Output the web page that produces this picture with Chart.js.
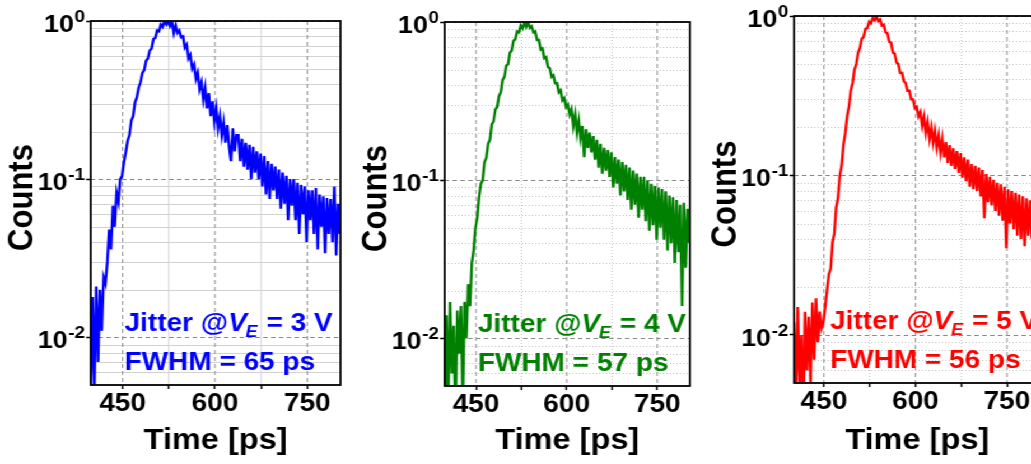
<!DOCTYPE html>
<html><head><meta charset="utf-8">
<script src="https://cdn.jsdelivr.net/npm/chart.js@4.4.1/dist/chart.umd.min.js"></script>
<style>
html,body{margin:0;padding:0;width:1031px;height:464px;overflow:hidden;background:#fff}
#wrap{position:absolute;left:0;top:0;width:940px;height:464px;transform:scaleX(1.12);transform-origin:0 0}
#wrap canvas{position:absolute;top:0}
</style></head><body>
<div id="wrap">
<canvas id="c1" width="310" height="464" style="left:0px"></canvas>
<canvas id="c2" width="306" height="464" style="left:316px"></canvas>
<canvas id="c3" width="307" height="464" style="left:628px"></canvas>
</div>
<script>
// ---- data ----
const times = [
398,401,404,407,410,413,416,419,422,425,
428,431,434,437,440,443,446,449,452,455,
458,461,464,467,470,473,476,479,482,485,
488,491,494,497,500,503,506,509,512,515,
518,521,524,527,530,533,536,539,542,545,
548,551,554,557,560,563,566,569,572,575,
578,581,584,587,590,593,596,599,602,605,
608,611,614,617,620,623,626,629,632,635,
638,641,644,647,650,653,656,659,662,665,
668,671,674,677,680,683,686,689,692,695,
698,701,704,707,710,713,716,719,722,725,
728,731,734,737,740,743,746,749,752,755,
758,761,764,767,770,773,776,779,782,785,
788,791,794,797,800,803];

const countsBlue = [
0.004,0.018,0.005,0.021,0.007,0.02,0.011,0.024,0.022,0.03,
0.048,0.036,0.068,0.05,0.082,0.072,0.1,0.105,0.128,0.148,
0.175,0.19,0.235,0.25,0.305,0.33,0.38,0.41,0.47,0.49,
0.56,0.58,0.65,0.67,0.77,0.78,0.87,0.86,0.95,0.92,
1.0,0.95,1.0,0.93,0.99,0.84,0.94,0.84,0.87,0.79,
0.8,0.68,0.71,0.58,0.61,0.5,0.53,0.43,0.47,0.37,
0.41,0.32,0.38,0.28,0.35,0.25,0.31,0.23,0.28,0.21,
0.25,0.19,0.23,0.17,0.22,0.16,0.13,0.21,0.15,0.19,
0.19,0.13,0.18,0.12,0.17,0.115,0.165,0.1,0.16,0.11,
0.15,0.1,0.145,0.09,0.14,0.08,0.13,0.075,0.125,0.085,
0.12,0.075,0.115,0.065,0.11,0.07,0.105,0.055,0.1,0.068,
0.1,0.055,0.095,0.045,0.092,0.06,0.09,0.04,0.085,0.055,
0.085,0.045,0.088,0.036,0.08,0.05,0.078,0.034,0.076,0.045,
0.075,0.04,0.09,0.033,0.07,0.045];

const countsGreen = [
0.003,0.014,0.004,0.017,0.006,0.012,0.003,0.015,0.008,0.016,
0.004,0.017,0.01,0.022,0.016,0.03,0.036,0.05,0.058,0.078,
0.095,0.1,0.13,0.138,0.17,0.18,0.225,0.235,0.28,0.29,
0.34,0.36,0.43,0.45,0.53,0.54,0.64,0.66,0.76,0.78,
0.87,0.86,0.95,0.91,0.99,0.93,1.0,0.92,0.94,0.86,
0.87,0.77,0.77,0.67,0.68,0.59,0.6,0.52,0.51,0.45,
0.46,0.41,0.41,0.36,0.37,0.32,0.33,0.29,0.3,0.26,
0.28,0.22,0.26,0.2,0.24,0.185,0.22,0.14,0.21,0.16,
0.2,0.15,0.19,0.135,0.18,0.12,0.17,0.11,0.16,0.115,
0.155,0.105,0.15,0.09,0.14,0.095,0.135,0.08,0.13,0.085,
0.125,0.075,0.12,0.065,0.115,0.07,0.11,0.058,0.105,0.065,
0.105,0.055,0.1,0.048,0.095,0.052,0.092,0.042,0.09,0.05,
0.088,0.042,0.085,0.036,0.08,0.04,0.078,0.03,0.075,0.035,
0.07,0.016,0.072,0.028,0.066,0.04];

const countsRed = [
0.003,0.012,0.004,0.015,0.005,0.01,0.003,0.014,0.006,0.013,
0.005,0.016,0.007,0.017,0.009,0.014,0.011,0.012,0.015,0.019,
0.024,0.026,0.038,0.043,0.063,0.072,0.1,0.115,0.155,0.185,
0.235,0.27,0.34,0.38,0.46,0.5,0.59,0.63,0.72,0.74,
0.83,0.84,0.92,0.9,0.97,0.94,1.0,0.93,0.95,0.87,
0.88,0.79,0.78,0.69,0.68,0.59,0.58,0.51,0.5,0.44,
0.44,0.39,0.38,0.34,0.34,0.3,0.3,0.265,0.27,0.235,
0.25,0.205,0.235,0.185,0.215,0.17,0.2,0.16,0.19,0.15,
0.178,0.14,0.17,0.13,0.162,0.12,0.155,0.115,0.148,0.11,
0.142,0.104,0.138,0.097,0.13,0.092,0.126,0.085,0.118,0.082,
0.115,0.08,0.112,0.074,0.108,0.054,0.102,0.068,0.098,0.065,
0.094,0.06,0.09,0.056,0.088,0.052,0.085,0.035,0.082,0.05,
0.08,0.046,0.078,0.042,0.076,0.04,0.074,0.036,0.072,0.042,
0.07,0.04,0.068,0.037,0.066,0.042];

const xTicks = [450, 525, 600, 675, 750];
const xTickLabels = ['450', '', '600', '', '750'];
const xMajor = [450, 600, 750];
const yDecades = [0.01, 0.1, 1];
const yExponents = ['-2', '-1', '0'];
const yMinor = [0.005,0.006,0.007,0.008,0.009,0.02,0.03,0.04,0.05,0.06,0.07,0.08,0.09,0.2,0.3,0.4,0.5,0.6,0.7,0.8,0.9];
const voltages = ['3', '4', '5'];
const fwhmValues = ['65', '57', '56'];

// ---- presentation ----
const FONT = '"Liberation Sans", Arial, Helvetica, sans-serif';
Chart.defaults.font.family = FONT;

const panels = [
  {id:'c1', values:countsBlue,  color:'#0000ff', xMin:398, xMax:804, top:21, xh:79, minor:'solid',  annT:453},
  {id:'c2', values:countsGreen, color:'#008000', xMin:398, xMax:804, top:22, xh:78, minor:'dotted', annT:453},
  {id:'c3', values:countsRed,   color:'#ff0000', xMin:401, xMax:805, top:16, xh:81, minor:'dotted', annT:460}
];

function decoPlugin(p, idx) {
  return {
    id: 'deco' + idx,
    beforeDatasetsDraw(chart) {
      const {ctx, chartArea: a, scales: {x, y}} = chart;
      ctx.save();
      ctx.beginPath(); ctx.rect(a.left, a.top, a.right - a.left, a.bottom - a.top); ctx.clip();
      ctx.lineWidth = 1;
      const setStyle = (major) => {
        if (major) { ctx.strokeStyle = '#8a8a8a'; ctx.setLineDash([4, 3]); }
        else if (p.minor === 'solid') { ctx.strokeStyle = '#d2d2d2'; ctx.setLineDash([]); }
        else { ctx.strokeStyle = '#c2c2c2'; ctx.setLineDash([1, 2]); }
      };
      const draw = (major) => {
        setStyle(major);
        x.ticks.forEach(t => {
          if (xMajor.includes(t.value) !== major) return;
          const px = x.getPixelForValue(t.value);
          ctx.beginPath(); ctx.moveTo(px, a.top); ctx.lineTo(px, a.bottom); ctx.stroke();
        });
        y.ticks.forEach(t => {
          if (yDecades.includes(t.value) !== major) return;
          const py = Math.round(y.getPixelForValue(t.value)) + 0.5;
          ctx.beginPath(); ctx.moveTo(a.left, py); ctx.lineTo(a.right, py); ctx.stroke();
        });
      };
      draw(false); draw(true);
      ctx.restore();
    },
    afterDraw(chart) {
      const {ctx, chartArea: a, scales: {x, y}} = chart;
      ctx.save();
      // frame
      ctx.strokeStyle = '#000'; ctx.lineWidth = 1.8; ctx.setLineDash([]);
      ctx.strokeRect(a.left, a.top, a.right - a.left, a.bottom - a.top);
      // y tick labels 10^n
      ctx.fillStyle = '#000'; ctx.textAlign = 'right'; ctx.textBaseline = 'alphabetic';
      yDecades.forEach((v, i) => {
        const py = y.getPixelForValue(v);
        const xr = a.left - 5;
        ctx.font = 'bold 17px ' + FONT;
        const ew = ctx.measureText(yExponents[i]).width;
        ctx.fillText(yExponents[i], xr, py + 1);
        ctx.font = 'bold 24px ' + FONT;
        ctx.fillText('10', xr - ew - 0.5, py + 11);
      });
      // y title
      ctx.save();
      ctx.translate(20, (a.top + a.bottom) / 2 - 5.5);
      ctx.rotate(-Math.PI / 2);
      ctx.font = 'bold 31px ' + FONT; ctx.textAlign = 'center'; ctx.textBaseline = 'middle';
      ctx.fillText('Counts', 0, 0);
      ctx.restore();
      // annotation
      ctx.fillStyle = p.color; ctx.textAlign = 'left'; ctx.textBaseline = 'alphabetic';
      const x0 = x.getPixelForValue(p.annT);
      const yb1 = a.bottom - 54, yb2 = a.bottom - 15;
      let cx = x0;
      ctx.font = 'bold 25px ' + FONT;
      ctx.fillText('Jitter @', cx, yb1); cx += ctx.measureText('Jitter @').width;
      ctx.font = 'italic bold 25px ' + FONT;
      ctx.fillText('V', cx, yb1); cx += ctx.measureText('V').width;
      ctx.font = 'italic bold 16px ' + FONT;
      ctx.fillText('E', cx - 1, yb1 + 6); cx += ctx.measureText('E').width;
      ctx.font = 'bold 25px ' + FONT;
      ctx.fillText(' = ' + voltages[idx] + ' V', cx, yb1);
      ctx.fillText('FWHM = ' + fwhmValues[idx] + ' ps', x0, yb2);
      ctx.restore();
    }
  };
}

panels.forEach((p, idx) => {
  new Chart(document.getElementById(p.id), {
    type: 'line',
    data: {
      datasets: [{
        data: times.map((t, i) => ({x: t, y: p.values[i]})),
        borderColor: p.color,
        borderWidth: 2.4,
        pointRadius: 0,
        tension: 0,
        fill: false
      }]
    },
    options: {
      responsive: false,
      animation: false,
      events: [],
      layout: {padding: {left: 0, right: 6, top: p.top, bottom: 0}},
      plugins: {legend: {display: false}, tooltip: {enabled: false}},
      scales: {
        x: {
          type: 'linear', min: p.xMin, max: p.xMax,
          afterBuildTicks: s => { s.ticks = xTicks.map(v => ({value: v})); },
          afterFit: s => { s.height = p.xh; },
          ticks: {
            autoSkip: false, maxRotation: 0, padding: 0, color: '#000',
            font: {size: 25, weight: 'bold'},
            callback: (v, i) => xTickLabels[i]
          },
          grid: {display: true, drawOnChartArea: false, drawTicks: true, tickLength: 4, tickColor: '#000', tickWidth: 1.5},
          border: {display: false},
          title: {display: true, text: 'Time [ps]', color: '#000', font: {size: 29, weight: 'bold'}, padding: {top: 0, bottom: 6}}
        },
        y: {
          type: 'logarithmic', min: 0.005, max: 1,
          afterBuildTicks: s => { s.ticks = yMinor.concat(yDecades).sort((a, b) => a - b).map(v => ({value: v})); },
          afterFit: s => { s.width = 81; },
          ticks: {display: false},
          grid: {
            display: true, drawOnChartArea: false, drawTicks: true, tickLength: 4, tickWidth: 1.5,
            tickColor: c => (c.tick && yDecades.includes(c.tick.value)) ? '#000' : 'rgba(0,0,0,0)'
          },
          border: {display: false},
          title: {display: false}
        }
      }
    },
    plugins: [decoPlugin(p, idx)]
  });
});
</script>
</body></html>
